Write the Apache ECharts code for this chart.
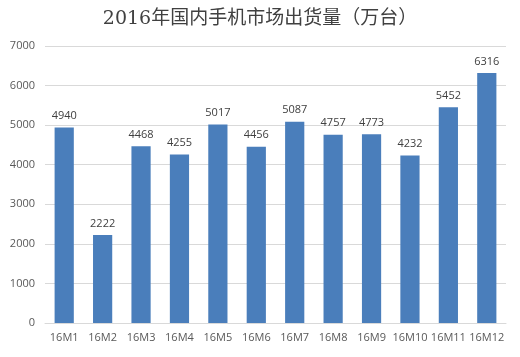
<!DOCTYPE html>
<html><head><meta charset="utf-8">
<script src="https://cdn.jsdelivr.net/npm/echarts@6/dist/echarts.min.js"></script>
<style>html,body{margin:0;padding:0;background:#fff}#c{width:520px;height:357px}</style>
</head><body><div id="c"></div>
<script>
var title = '2016年国内手机市场出货量（万台）';
var categories = ['16M1','16M2','16M3','16M4','16M5','16M6','16M7','16M8','16M9','16M10','16M11','16M12'];
var values = [4940,2222,4468,4255,5017,4456,5087,4757,4773,4232,5452,6316];
var chart = echarts.init(document.getElementById('c'), null, {renderer:'canvas'});
chart.setOption({
  animation:false,
  backgroundColor:'#fff',
  title:{text:title,left:'center',top:5,textStyle:{fontFamily:'"DejaVu Serif","Noto Sans CJK SC",serif',fontSize:19,fontWeight:'normal',color:'#404040'}},
  grid:{left:45,right:14,top:46,bottom:34},
  xAxis:{type:'category',data:categories,axisTick:{show:false},axisLine:{lineStyle:{color:'#d9d9d9'}},
    axisLabel:{color:'#595959',fontSize:11,fontFamily:'"Open Sans",sans-serif',margin:9,interval:0}},
  yAxis:{type:'value',min:0,max:7000,interval:1000,axisLine:{show:false},axisTick:{show:false},
    splitLine:{lineStyle:{color:'#d9d9d9'}},
    axisLabel:{color:'#595959',fontSize:11,fontFamily:'"Open Sans",sans-serif',margin:10,formatter:function(v){return String(v);}}},
  series:[{type:'bar',data:values,barWidth:'50%',itemStyle:{color:'#4a7ebb'},
    label:{show:true,position:'top',distance:6,color:'#404040',fontSize:11,fontFamily:'"Open Sans",sans-serif'}}]
});
</script></body></html>
